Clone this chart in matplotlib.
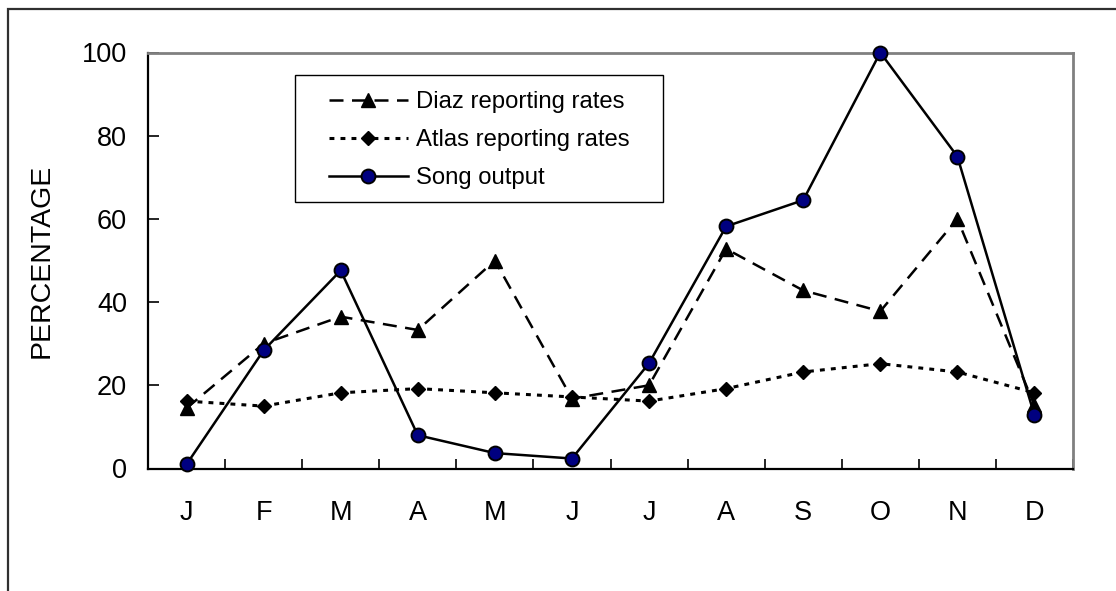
import matplotlib
matplotlib.use("Agg")
import matplotlib.pyplot as plt
from matplotlib.patches import Rectangle

months = ["J", "F", "M", "A", "M", "J", "J", "A", "S", "O", "N", "D"]
diaz = [14.5, 30, 36.5, 33.3, 50, 16.8, 20, 52.8, 42.8, 37.8, 60, 15.2]
atlas = [16.2, 15, 18.2, 19.2, 18.2, 17.2, 16.2, 19.2, 23.2, 25.2, 23.2, 18.2]
song = [1.0, 28.4, 47.6, 8.0, 3.7, 2.4, 25.3, 58.2, 64.5, 100, 75, 12.8]
yticks = [0, 20, 40, 60, 80, 100]

plt.rcParams['font.family'] = ['Liberation Sans', 'DejaVu Sans']

W, H = 1116, 591
fig = plt.figure(figsize=(W / 100, H / 100), dpi=100)

# figure border (top and left visible)
fig.patches.append(Rectangle((8 / W, -0.5), 1.5, 1 - 9 / H + 0.5,
                             transform=fig.transFigure, fill=False,
                             edgecolor="#303030", linewidth=1.6))

ax = fig.add_axes([148 / W, 1 - 468.5 / H, (1073 - 148) / W, (468.5 - 52.5) / H])
x = list(range(len(months)))

ax.plot(x, diaz, color="black", linewidth=1.8, dashes=(5.6, 3.4),
        marker="^", markersize=10.5, markerfacecolor="black", markeredgecolor="black",
        label="Diaz reporting rates", zorder=3)
ax.plot(x, atlas, color="black", linewidth=2.2, dashes=(1.6, 2.0),
        marker="D", markersize=7.5, markerfacecolor="black", markeredgecolor="black",
        label="Atlas reporting rates", zorder=3)
ax.plot(x, song, color="black", linewidth=1.8, linestyle="-",
        marker="o", markersize=10, markerfacecolor="#000080", markeredgecolor="black",
        markeredgewidth=1.4, label="Song output", zorder=4, clip_on=False)

ax.set_xlim(-0.5, len(months) - 0.5)
ax.set_ylim(0, 100)
ax.set_yticks(yticks)
ax.set_xticks(x)
ax.set_xticklabels(months)
ax.set_xticks([i - 0.5 for i in range(len(months) + 1)], minor=True)
ax.tick_params(axis="x", which="major", length=0, pad=23, labelsize=19.5)
ax.tick_params(axis="x", which="minor", direction="in", length=7, width=1.2)
ax.tick_params(axis="y", direction="in", length=8, width=1.2, pad=15, labelsize=19.5)
ax.set_ylabel("PERCENTAGE", fontsize=20.5, labelpad=20)

for s in ["left", "bottom"]:
    ax.spines[s].set_color("black")
    ax.spines[s].set_linewidth(1.6)
for s in ["top", "right"]:
    ax.spines[s].set_color("#808080")
    ax.spines[s].set_linewidth(2)

# legend frame
fig.patches.append(Rectangle((295 / W, 1 - 202 / H), (663 - 295) / W, (202 - 75) / H,
                             transform=fig.transFigure, fill=False,
                             edgecolor="black", linewidth=1))
leg = ax.legend(loc="upper left", bbox_to_anchor=(329 / W, 1 - 91 / H),
                bbox_transform=fig.transFigure, frameon=False, fontsize=17.2,
                handlelength=3.3, handletextpad=0.35, labelspacing=0.68,
                borderpad=0, borderaxespad=0)

fig.savefig("out.png", dpi=100)
